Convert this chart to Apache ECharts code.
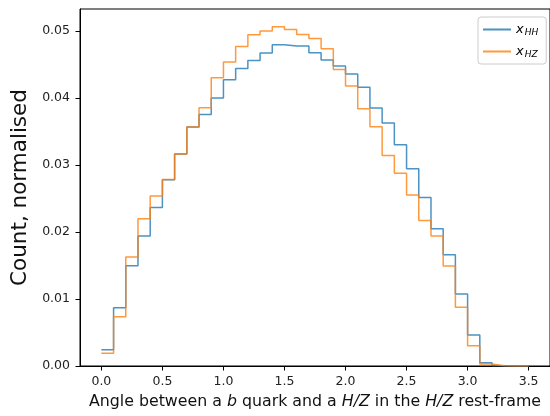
<!DOCTYPE html>
<html>
<head>
<meta charset="utf-8">
<script src="https://cdn.jsdelivr.net/npm/echarts@6/dist/echarts.min.js"></script>
<style>html,body{margin:0;padding:0;background:#fff;}#c{width:550px;height:416px;}</style>
</head>
<body>
<div id="c"></div>
<script>
// Histogram bins: 35 bins of width 0.1 from 0.0 to 3.5
var binStart = 0.0;
var binWidth = 0.1;
var seriesNames = ['xHH', 'xHZ'];
var xHH = [0.00244,0.0087,0.01497,0.0194,0.02368,0.0278,0.03164,0.03567,0.03756,0.0400,
           0.04273,0.04443,0.04562,0.04672,0.04796,0.04776,0.04776,0.04676,0.04567,0.04478,
           0.04358,0.0416,0.03851,0.03627,0.03303,0.02945,0.02517,0.0205,0.01662,0.01075,
           0.00463,0.0005,0.00002,0,0];
var xHZ = [0.0019,0.00736,0.01627,0.02199,0.02537,0.02786,0.03164,0.03567,0.03856,0.04303,
           0.04537,0.04771,0.04945,0.0500,0.05065,0.05025,0.0495,0.0489,0.04736,0.04428,
           0.04179,0.0384,0.03572,0.03144,0.02876,0.02552,0.02174,0.0194,0.01493,0.00876,
           0.00303,0.0003,0.00002,0,0];
var xTicks = [0.0,0.5,1.0,1.5,2.0,2.5,3.0,3.5];
var yTicks = [0.00,0.01,0.02,0.03,0.04,0.05];

function toSteps(vals){
  var pts = [];
  for (var i = 0; i < vals.length; i++) {
    pts.push([+(binStart + i*binWidth).toFixed(4), vals[i]]);
  }
  pts.push([+(binStart + vals.length*binWidth).toFixed(4), vals[vals.length-1]]);
  return pts;
}

var font = 'DejaVu Sans';
var chart = echarts.init(document.getElementById('c'), null, {renderer:'canvas'});
chart.setOption({
  animation: false,
  backgroundColor: '#fff',
  grid: {left: 80, top: 9, width: 477, height: 357, show: true, borderColor: '#000', borderWidth: 1, backgroundColor: 'transparent'},
  legend: {
    orient: 'vertical', left: 478, top: 17,
    padding: [5, 8, 5, 5],
    itemGap: 7, itemWidth: 28, itemHeight: 2, icon: 'rect',
    backgroundColor: 'rgba(255,255,255,0.8)', borderColor: '#ccc', borderWidth: 1, borderRadius: 3,
    data: seriesNames,
    formatter: function(n){ return n === 'xHH' ? '{i|x}{s|HH}' : '{i|x}{s|HZ}'; },
    textStyle: {
      fontFamily: font, color: '#000',
      rich: {
        i: {fontFamily: font, fontStyle: 'italic', fontSize: 13, color: '#000', lineHeight: 14},
        s: {fontFamily: font, fontStyle: 'italic', fontSize: 9, color: '#000', padding: [6,0,0,1], lineHeight: 14}
      }
    }
  },
  xAxis: {
    type: 'value', min: -0.175, max: 3.675,
    axisLine: {show: true, onZero: false, lineStyle: {color: '#000', width: 1}},
    axisTick: {show: true, length: 4.5, lineStyle: {color: '#000'}, customValues: xTicks},
    axisLabel: {fontFamily: font, fontSize: 12.5, color: '#222', margin: 9, customValues: xTicks,
      formatter: function(v){ return v.toFixed(1); }},
    splitLine: {show: false},
    name: 'Angle between a {i|b} quark and a {i|H/Z} in the {i|H/Z} rest-frame',
    nameLocation: 'middle', nameGap: 28,
    nameTextStyle: {fontFamily: font, fontSize: 15.8, color: '#111',
      rich: {i: {fontFamily: font, fontSize: 15.8, fontStyle: 'italic', color: '#111'}}}
  },
  yAxis: {
    type: 'value', min: 0, max: 0.0533,
    axisLine: {show: true, onZero: false, lineStyle: {color: '#000', width: 1}},
    axisTick: {show: true, length: 4.5, lineStyle: {color: '#000'}, customValues: yTicks},
    axisLabel: {fontFamily: font, fontSize: 12.5, color: '#222', margin: 10, customValues: yTicks,
      formatter: function(v){ return v.toFixed(2); }},
    splitLine: {show: false},
    name: 'Count, normalised', nameLocation: 'middle', nameGap: 43,
    nameTextStyle: {fontFamily: font, fontSize: 21.5, color: '#111'}
  },
  series: [
    {name: 'xHH', type: 'line', step: 'end', data: toSteps(xHH), showSymbol: false, symbol: 'none',
     color: '#1f77b4', lineStyle: {color: '#1f77b4', width: 1.5, opacity: 0.8}, itemStyle: {color: '#1f77b4', opacity: 0.8}},
    {name: 'xHZ', type: 'line', step: 'end', data: toSteps(xHZ), showSymbol: false, symbol: 'none',
     color: '#ff7f0e', lineStyle: {color: '#ff7f0e', width: 1.5, opacity: 0.8}, itemStyle: {color: '#ff7f0e', opacity: 0.8}}
  ]
});
</script>
</body>
</html>
